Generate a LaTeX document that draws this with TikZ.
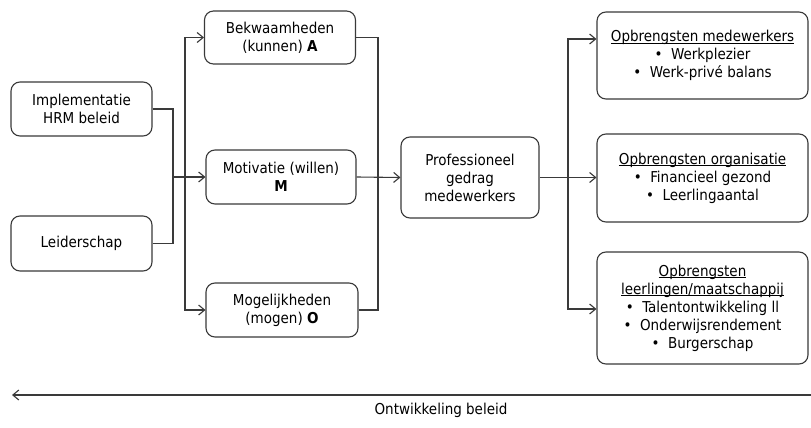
\documentclass[tikz,border=0pt]{standalone}
\usepackage{fontspec}
\setmainfont{DejaVu Sans Condensed}
\usetikzlibrary{arrows.meta}
\definecolor{ln}{HTML}{3A3A3A}
\newcommand{\myul}[1]{\setbox0\hbox{#1}\rlap{\rule[-1.6pt]{\wd0}{0.6pt}}\box0}
\begin{document}
\begin{tikzpicture}[x=1pt,y=-1pt,
  box/.style={draw=ln, line width=1.1pt, rounded corners=9pt, align=center, inner sep=2pt,
    font=\fontsize{15}{18}\selectfont, text=black},
  conn/.style={draw=ln, line width=1.1pt},
  arr/.style={conn, -{Straight Barb[length=6pt,width=10pt,line width=1.1pt]}}]
\useasboundingbox[fill=white] (0,0) rectangle (811,428);
% left
\node[box, minimum width=141pt, minimum height=54pt] (imp) at (81.5,109) {Implementatie\\HRM beleid};
\node[box, minimum width=141pt, minimum height=55pt] (lei) at (81.5,243.5) {Leiderschap};
% AMO
\node[box, minimum width=151pt, minimum height=53pt] (bek) at (280,37.5) {Bekwaamheden\\(kunnen) \textbf{A}};
\node[box, minimum width=150pt, minimum height=54pt] (mot) at (281,177) {Motivatie (willen)\\\textbf{M}};
\node[box, minimum width=152pt, minimum height=54pt] (mog) at (282,310) {Mogelijkheden\\(mogen) \textbf{O}};
% middle
\node[box, minimum width=138pt, minimum height=81pt] (prof) at (470,177.5) {Professioneel\\gedrag\\medewerkers};
% right
\node[box, minimum width=211pt, minimum height=87pt] (om) at (702.5,55.5) {\myul{Opbrengsten medewerkers}\\\textbullet\ \ Werkplezier\\\textbullet\ \ Werk-privé balans};
\node[box, minimum width=211pt, minimum height=88pt] (oo) at (702.5,178) {\myul{Opbrengsten organisatie}\\\textbullet\ \ Financieel gezond\\\textbullet\ \ Leerlingaantal};
\node[box, minimum width=211pt, minimum height=112pt] (ol) at (702.5,308) {\myul{Opbrengsten}\\\myul{leerlingen/maatschappij}\\\textbullet\ \ Talentontwikkeling ll\\\textbullet\ \ Onderwijsrendement\\\textbullet\ \ Burgerschap};
% junctions
\coordinate (j) at (173,177);
\coordinate (s1) at (185,177);
\coordinate (r1) at (378,177);
\coordinate (s2) at (568,177.5);
\draw[conn] (imp.east) -| (j);
\draw[conn] (lei.east) -| (j);
\draw[arr] (j) -- (mot.west);
\draw[arr] (s1) |- (bek.west);
\draw[arr] (s1) |- (mog.west);
\draw[conn] (bek.east) -| (r1);
\draw[conn] (mog.east) -| (r1);
\draw[arr] (mot.east) -- (prof.west);
\draw[arr] (prof.east) -- (prof.east -| oo.west);
\draw[arr] (s2) |- ([yshift=16.5pt]om.west);
\draw[arr] (s2) |- ([yshift=-1pt]ol.west);
% bottom
\coordinate (b1) at (811,395);
\coordinate (b0) at (12,395);
\draw[arr] (b1) -- (b0);
\node[font=\fontsize{15}{18}\selectfont, inner sep=0pt] (lab) at (441,410) {Ontwikkeling beleid};
\end{tikzpicture}
\end{document}
